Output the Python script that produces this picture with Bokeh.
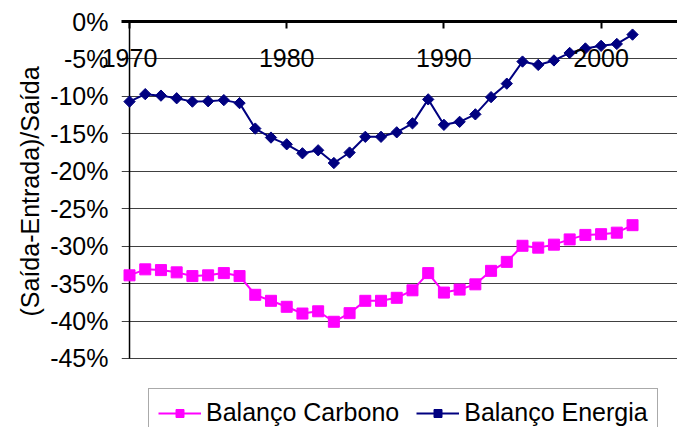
from bokeh.plotting import figure
from bokeh.models import FixedTicker, Legend, LegendItem, Range1d, Title
from bokeh.embed import file_html
from bokeh.resources import INLINE
import numpy as np

years = list(range(1970, 2003))
balanco_carbono = [-33.9, -33.1, -33.2, -33.5, -34.0, -33.9, -33.6, -34.0, -36.5, -37.3,
                   -38.1, -39.0, -38.7, -40.1, -38.95, -37.3, -37.3, -36.9, -35.9, -33.6,
                   -36.2, -35.8, -35.1, -33.3, -32.1, -29.95, -30.2, -29.8, -29.1, -28.5,
                   -28.4, -28.2, -27.2]
balanco_energia = [-10.7, -9.7, -9.9, -10.25, -10.7, -10.65, -10.5, -10.9, -14.3, -15.5,
                   -16.4, -17.6, -17.2, -18.9, -17.5, -15.4, -15.4, -14.8, -13.6, -10.4,
                   -13.8, -13.4, -12.4, -10.1, -8.3, -5.35, -5.8, -5.2, -4.2, -3.6,
                   -3.25, -3.0, -1.75]

y_ticks = [0, -5, -10, -15, -20, -25, -30, -35, -40, -45]
y_tick_labels = ["0%", "-5%", "-10%", "-15%", "-20%", "-25%", "-30%", "-35%", "-40%", "-45%"]
x_ticks = [1970, 1980, 1990, 2000]
x_tick_labels = ["1970", "1980", "1990", "2000"]
y_title = "(Saída-Entrada)/Saída"

FONT = "Liberation Sans"
FS = "25px"

# frame runs to the bottom of the page so that the legend can sit under the -45% line
p = figure(width=677, height=427, output_backend="svg", toolbar_location=None,
           x_axis_location="above",
           x_range=Range1d(1969.49, 2004.86), y_range=Range1d(-54.22, 0),
           min_border_left=121, min_border_right=0, min_border_top=21, min_border_bottom=0)
p.outline_line_color = None
p.background_fill_color = "white"
p.border_fill_color = "white"

# grid
p.xgrid.grid_line_color = None
p.ygrid.ticker = FixedTicker(ticks=y_ticks)
p.ygrid.grid_line_color = "#404040"
p.ygrid.grid_line_width = 1

# x axis on top, labels pulled inside the plot
xa = p.xaxis[0]
xa.ticker = FixedTicker(ticks=x_ticks)
xa.major_label_overrides = {t: l for t, l in zip(x_ticks, x_tick_labels)}
xa.minor_tick_line_color = None
xa.major_tick_in = 7
xa.major_tick_out = 0
xa.major_tick_line_width = 2
xa.axis_line_width = 3
xa.axis_line_color = "black"
xa.major_tick_line_color = "black"
xa.major_label_text_font = FONT
xa.major_label_text_font_size = FS
xa.major_label_text_color = "black"
xa.major_label_standoff = -45
xa.axis_label = " "
xa.axis_label_text_font_size = "1px"
xa.axis_label_standoff = 27

# y axis
ya = p.yaxis[0]
ya.ticker = FixedTicker(ticks=y_ticks)
ya.major_label_overrides = {t: l for t, l in zip(y_ticks, y_tick_labels)}
ya.minor_tick_line_color = None
ya.major_tick_in = 0
ya.major_tick_out = 0
ya.axis_line_color = None
ya.major_label_text_font = FONT
ya.major_label_text_font_size = FS
ya.major_label_text_color = "black"
ya.major_label_standoff = 13

# y title, starting above the bottom of the frame so it is centred on 0% .. -45%
p.add_layout(Title(text=y_title, align="left", offset=111, standoff=8,
                   text_font=FONT, text_font_size=FS, text_font_style="normal",
                   text_color="black"), "left")

# vertical axis line at the first year, from the top tick to the bottom tick
p.segment(x0=[x_ticks[0]], y0=[y_ticks[0]], x1=[x_ticks[0]], y1=[y_ticks[-1]],
          line_color="black", line_width=1.5)

lc = p.line(years, balanco_carbono, line_color="#FF00FF", line_width=2)
sc = p.scatter(years, balanco_carbono, marker="square", size=11, fill_color="#FF00FF", line_color="#FF00FF")
le = p.line(years, balanco_energia, line_color="#000080", line_width=2)
se = p.scatter(years, balanco_energia, marker="square", size=8, angle=np.pi / 4,
               fill_color="#000080", line_color="#000080")

legend = Legend(items=[LegendItem(label="Balanço Carbono", renderers=[lc, sc]),
                       LegendItem(label="Balanço Energia", renderers=[le, se])],
                orientation="horizontal", location=(27, -10), padding=9, spacing=17,
                label_standoff=5, glyph_width=43, glyph_height=20, margin=0,
                label_text_font=FONT, label_text_font_size=FS, label_text_color="black",
                border_line_color="#555555", border_line_width=1, background_fill_alpha=1)
p.add_layout(legend, "center")

open("out.html", "w").write(file_html(p, INLINE))
